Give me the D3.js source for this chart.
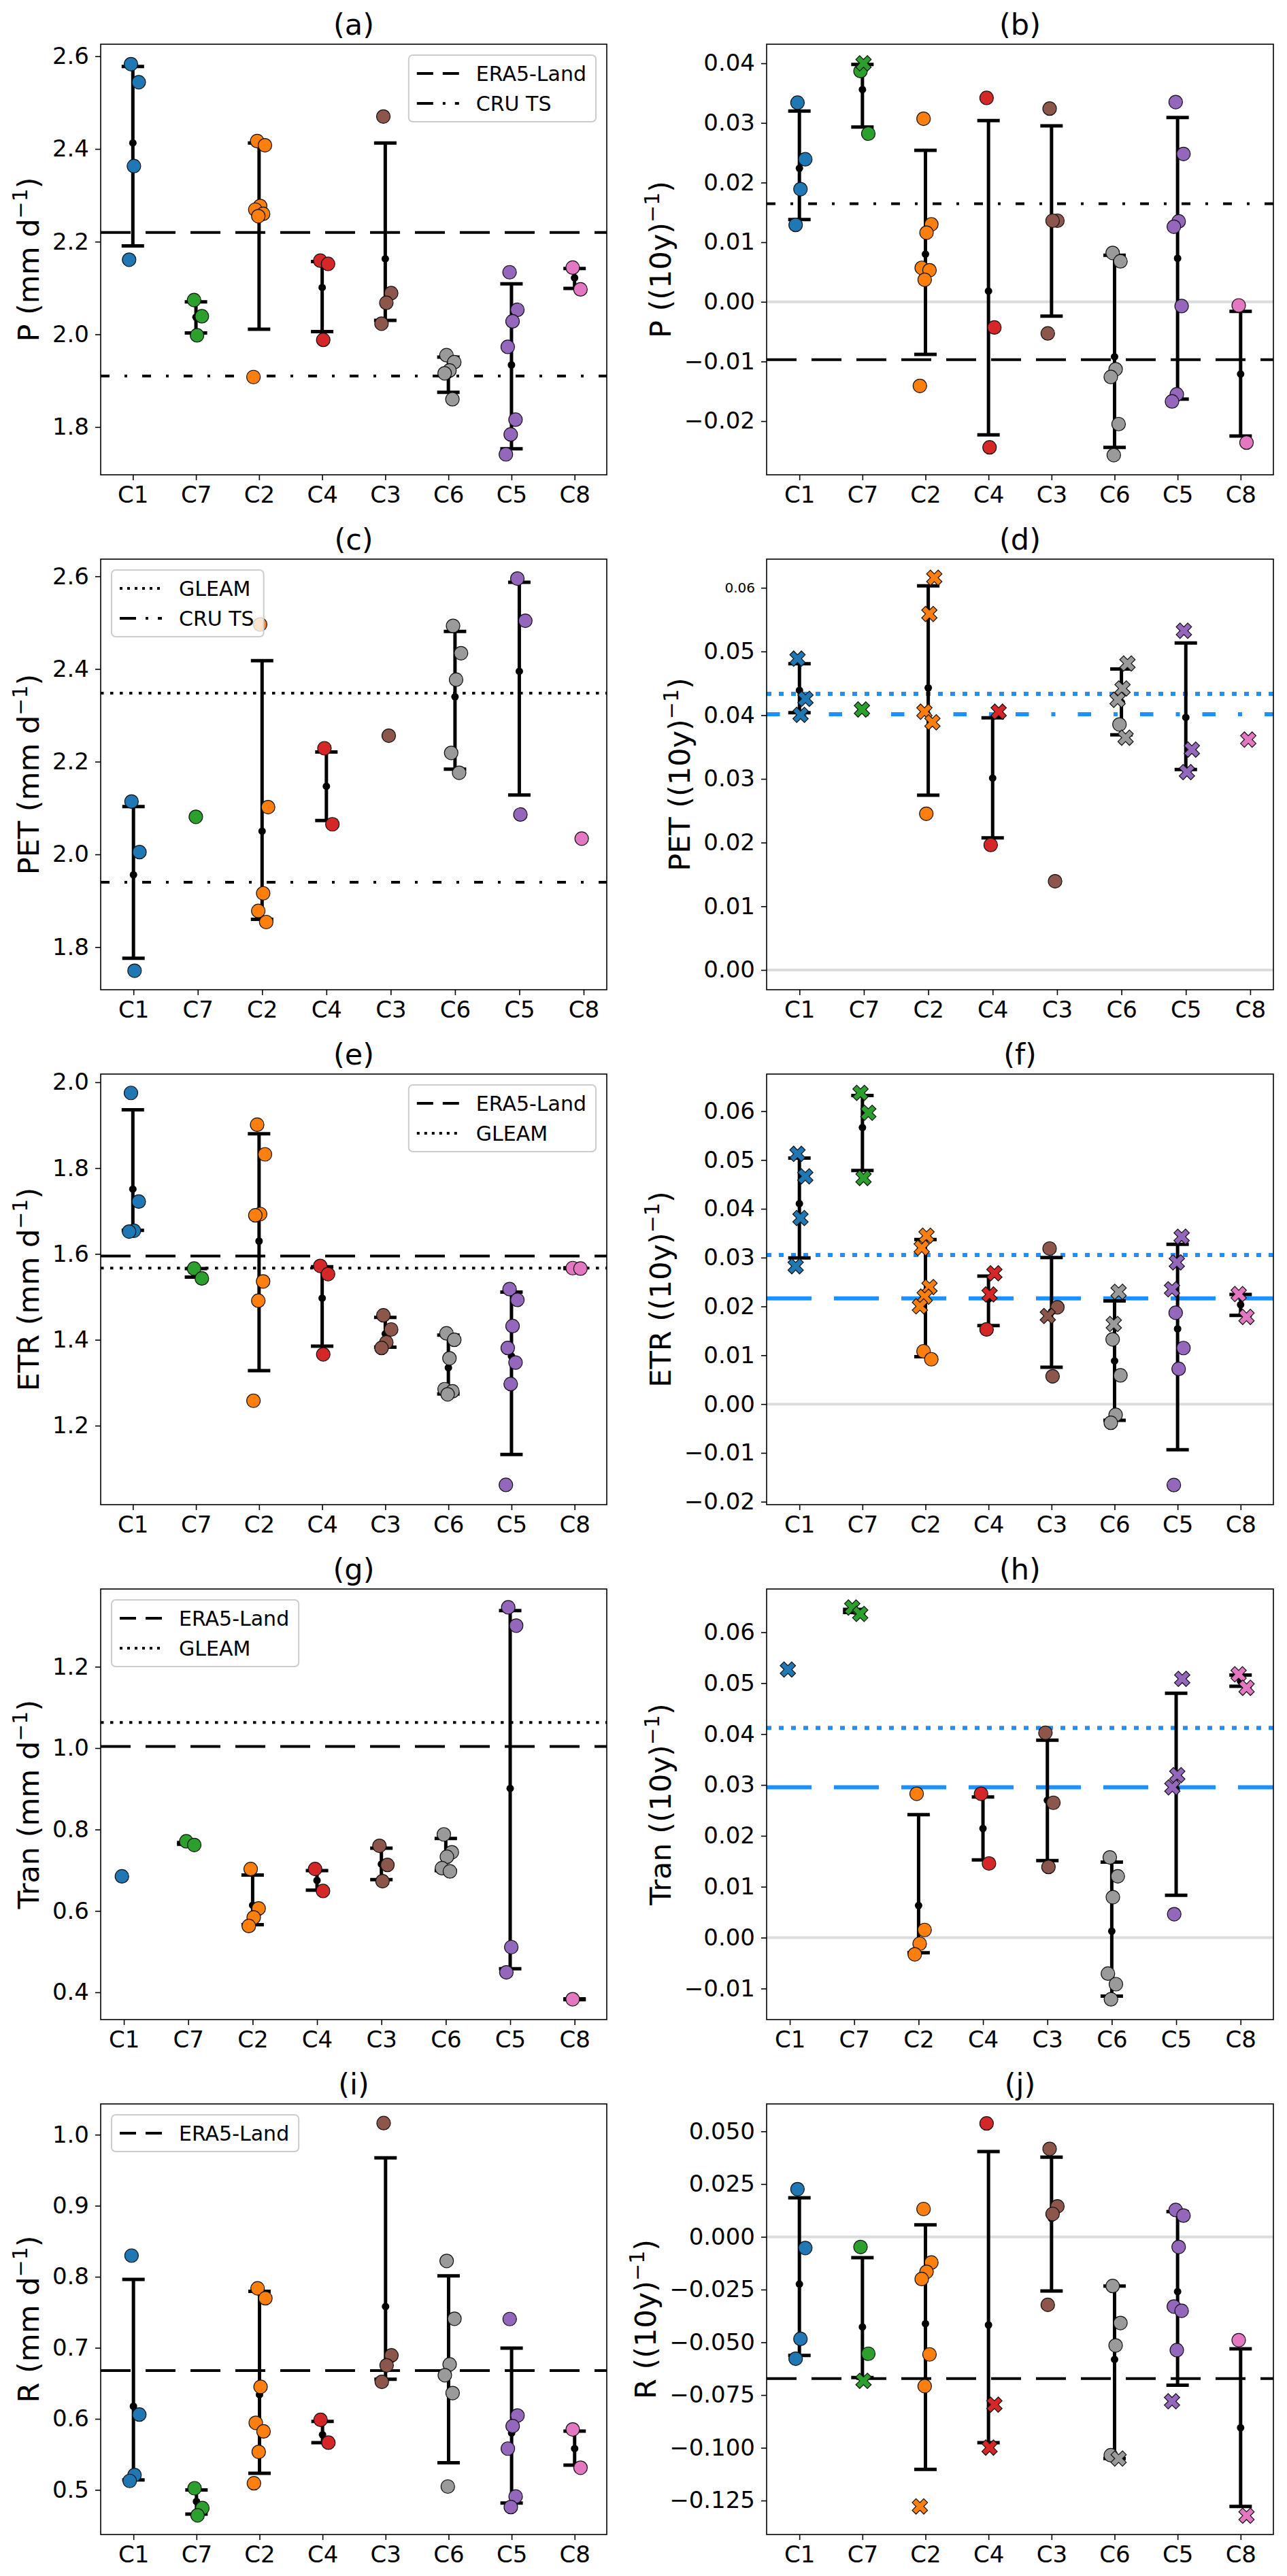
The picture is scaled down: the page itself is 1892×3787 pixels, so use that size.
<!DOCTYPE html>
<html>
<head>
<meta charset="utf-8">
<script src="https://cdn.jsdelivr.net/npm/d3@7"></script>
<style>
  body { margin: 0; background: #fff; }
  text { font-family: "DejaVu Sans", sans-serif; fill: #000; }
</style>
</head>
<body>
<svg id="fig"></svg>
<script>
// categories in plotting order and their colours
const categories = ["C1", "C7", "C2", "C4", "C3", "C6", "C5", "C8"];
const catColors = ["#1f77b4", "#2ca02c", "#ff7f0e", "#d62728", "#8c564b", "#9a9a9a", "#9467bd", "#e377c2"];

// (a) P (mm/d)
const circA = [[2.583, 2.544, 2.363, 2.161], [2.074, 2.039, 1.998], [2.417, 2.408, 2.277, 2.269, 2.260, 2.255, 1.908], [2.159, 2.152, 1.988],
  [2.470, 2.089, 2.068, 2.023], [1.955, 1.940, 1.922, 1.916, 1.860], [2.134, 2.053, 2.028, 1.973, 1.816, 1.784, 1.741], [2.144, 2.097]];
const crossA = [[], [], [], [], [], [], [], []];
const errA = [[2.191, 2.413, 2.578], [2.003, 2.037, 2.070], [2.011, 2.256, 2.413], [2.006, 2.101, 2.157],
  [2.030, 2.163, 2.413], [1.875, 1.912, 1.951], [1.753, 1.934, 2.109], [2.099, 2.122, 2.142]];
const refA = [["ERA5-Land", 2.220], ["CRU TS", 1.910]];
const ticksA = [1.8, 2.0, 2.2, 2.4, 2.6];

// (b) P trend
const circB = [[0.0334, 0.0239, 0.0189, 0.0129], [0.0387, 0.0282], [0.0307, 0.0130, 0.0116, 0.0057, 0.0053, 0.0037, -0.0141], [0.0342, -0.0043, -0.0244],
  [0.0324, 0.0136, 0.0136, -0.0053], [0.0082, 0.0068, -0.0113, -0.0126, -0.0205, -0.0257], [0.0335, 0.0248, 0.0135, 0.0126, -0.0007, -0.0155, -0.0167], [-0.0006, -0.0236]];
const crossB = [[], [0.0400], [], [], [], [], [], []];
const errB = [[0.0138, 0.0224, 0.0320], [0.0293, 0.0356, 0.0398], [-0.0088, 0.0080, 0.0254], [-0.0223, 0.0018, 0.0304],
  [-0.0024, 0.0136, 0.0295], [-0.0244, -0.0092, 0.0078], [-0.0163, 0.0073, 0.0309], [-0.0225, -0.0121, -0.0016]];
const refB = [["CRU TS", 0.01644], ["ERA5-Land", -0.00969]];
const ticksB = [-0.02, -0.01, 0.00, 0.01, 0.02, 0.03, 0.04];

// (c) PET (mm/d)
const circC = [[2.114, 2.005, 1.749], [2.081], [2.496, 2.102, 1.916, 1.878, 1.854], [2.229, 2.065],
  [2.256], [2.493, 2.434, 2.377, 2.219, 2.176], [2.595, 2.504, 2.086], [2.034]];
const crossC = [[], [], [], [], [], [], [], []];
const errC = [[1.776, 1.956, 2.103], null, [1.860, 2.050, 2.418], [2.073, 2.147, 2.221],
  null, [2.184, 2.340, 2.481], [2.128, 2.395, 2.587], null];
const refC = [["GLEAM", 2.348], ["CRU TS", 1.940]];
const ticksC = [1.8, 2.0, 2.2, 2.4, 2.6];

// (d) PET trend
const circD = [[], [], [0.02452], [0.01963], [0.01393], [0.03854], [], []];
const crossD = [[0.04888, 0.04257, 0.04005], [0.0409], [0.06158, 0.05589, 0.04055, 0.03889], [0.04055],
  [], [0.04812, 0.04419, 0.04242, 0.03647], [0.05326, 0.0346, 0.03107], [0.03617]];
const errD = [[0.0404, 0.0439, 0.04807], null, [0.02744, 0.04429, 0.06032], [0.02074, 0.03012, 0.0396],
  null, [0.03692, 0.0420, 0.04726], [0.03148, 0.03965, 0.05135], null];
const refD = [["GLEAM", 0.04336], ["CRU TS", 0.04015]];
const ticksD = [0.00, 0.01, 0.02, 0.03, 0.04, 0.05, 0.06];

// (e) ETR (mm/d)
const circE = [[1.975, 1.722, 1.654, 1.652], [1.566, 1.543], [1.901, 1.832, 1.693, 1.690, 1.536, 1.491, 1.258], [1.572, 1.553, 1.366],
  [1.457, 1.424, 1.394, 1.381], [1.415, 1.400, 1.357, 1.285, 1.280, 1.273], [1.518, 1.493, 1.432, 1.381, 1.347, 1.297, 1.062], [1.567, 1.566]];
const crossE = [[], [], [], [], [], [], [], []];
const errE = [[1.655, 1.751, 1.936], [1.546, 1.555, 1.566], [1.328, 1.630, 1.880], [1.385, 1.497, 1.570],
  [1.383, 1.414, 1.452], [1.274, 1.335, 1.411], [1.133, 1.362, 1.511], [1.566, 1.567, 1.568]];
const refE = [["ERA5-Land", 1.595], ["GLEAM", 1.567]];
const ticksE = [1.2, 1.4, 1.6, 1.8, 2.0];

// (f) ETR trend
const circF = [[], [], [0.01082, 0.00918], [0.01529], [0.03186, 0.01983, 0.00569], [0.01325, 0.00589, -0.0022, -0.00384],
  [0.01871, 0.01148, 0.00721, -0.01659], []];
const crossF = [[0.05126, 0.04665, 0.03811, 0.02824], [0.06375, 0.05967, 0.04632], [0.03449, 0.032, 0.02397, 0.022, 0.02003], [0.0268, 0.02246],
  [0.01805], [0.0230, 0.01641], [0.03429, 0.02903, 0.02351], [0.02253, 0.01786]];
const errF = [[0.02995, 0.04107, 0.0504], [0.04784, 0.05665, 0.06322], [0.0097, 0.02213, 0.0337], [0.01608, 0.0215, 0.0262],
  [0.00753, 0.0189, 0.03002], [-0.00331, 0.00885, 0.02114], [-0.00936, 0.01542, 0.03272], [0.01818, 0.02036, 0.02246]];
const refF = [["GLEAM", 0.03055], ["ERA5-Land", 0.02167]];
const ticksF = [-0.02, -0.01, 0.00, 0.01, 0.02, 0.03, 0.04, 0.05, 0.06];

// (g) Tran (mm/d)
const circG = [[0.685], [0.771, 0.762], [0.703, 0.606, 0.584, 0.563], [0.703, 0.649],
  [0.760, 0.713, 0.673], [0.788, 0.744, 0.733, 0.705, 0.697], [1.346, 1.301, 0.511, 0.449], [0.383]];
const crossG = [[], [], [], [], [], [], [], []];
const errG = [null, [0.764, 0.766, 0.768], [0.566, 0.614, 0.688], [0.651, 0.675, 0.699],
  [0.677, 0.715, 0.754], [0.699, 0.734, 0.778], [0.458, 0.901, 1.338], [0.382, 0.383, 0.384]];
const refG = [["ERA5-Land", 1.004], ["GLEAM", 1.063]];
const ticksG = [0.4, 0.6, 0.8, 1.0, 1.2];

// (h) Tran trend
const circH = [[], [], [0.02826, 0.00151, -0.0012, -0.00328], [0.02826, 0.01457], [0.04025, 0.0265, 0.01388],
  [0.01577, 0.01205, 0.00795, -0.00707, -0.00915, -0.01211], [0.00461], []];
const crossH = [[0.05268], [0.06486, 0.0636], [], [], [], [], [0.05085, 0.03192, 0.02953], [0.05174, 0.04909]];
const errH = [null, [0.0639, 0.0642, 0.0645], [-0.00297, 0.00631, 0.02416], [0.01527, 0.02145, 0.02763],
  [0.01514, 0.027, 0.0388], [-0.01148, 0.00126, 0.01483], [0.00833, 0.0292, 0.04801], [0.0494, 0.0504, 0.0516]];
const refH = [["GLEAM", 0.0412], ["ERA5-Land", 0.02953]];
const ticksH = [-0.01, 0.00, 0.01, 0.02, 0.03, 0.04, 0.05, 0.06];

// (i) R (mm/d)
const circI = [[0.8298, 0.6060, 0.5209, 0.5126], [0.5023, 0.4744, 0.4642], [0.7837, 0.7698, 0.6451, 0.5944, 0.5823, 0.5535, 0.5093], [0.5986, 0.5665],
  [1.0163, 0.6893, 0.6753, 0.6521], [0.8223, 0.7409, 0.6767, 0.6614, 0.6363, 0.5047], [0.7405, 0.6047, 0.5898, 0.5581, 0.4907, 0.4758], [0.5851, 0.5312]];
const crossI = [[], [], [], [], [], [], [], []];
const errI = [[0.514, 0.6177, 0.7963], [0.466, 0.4837, 0.500], [0.5233, 0.634, 0.7795], [0.5665, 0.5777, 0.5963],
  [0.6558, 0.7581, 0.9674], [0.5381, 0.670, 0.8014], [0.4814, 0.580, 0.6995], [0.5349, 0.5581, 0.5828]];
const refI = [["ERA5-Land", 0.6679]];
const ticksI = [0.5, 0.6, 0.7, 0.8, 0.9, 1.0];

// (j) R trend
const circJ = [[0.02259, -0.00529, -0.04837, -0.05777], [-0.00482, -0.05542], [0.01319, -0.01219, -0.01657, -0.02, -0.05573, -0.07077], [0.05376],
  [0.0417, 0.01444, 0.01084, -0.03224], [-0.02331, -0.04085, -0.0515, -0.1035], [0.01272, 0.01006, -0.00482, -0.03302, -0.03506, -0.0537], [-0.049]];
const crossJ = [[], [-0.06826], [-0.12779], [-0.07954, -0.0999], [], [-0.10508], [-0.07797], [-0.13217]];
const errJ = [[-0.0562, -0.02237, 0.01851], [-0.0667, -0.04273, -0.00984], [-0.11024, -0.04117, 0.00567], [-0.09756, -0.04179, 0.04045],
  [-0.02566, 0.0087, 0.03778], [-0.10508, -0.05808, -0.02331], [-0.0703, -0.02597, 0.01194], [-0.12779, -0.09051, -0.05307]];
const refJ = [["ERA5-Land", -0.06717]];
const ticksJ = [-0.125, -0.100, -0.075, -0.050, -0.025, 0.000, 0.025, 0.050];

// panel layout
const panels = [
  { tag: "(a)", row: 0, col: 0, v: "P", trend: false, circ: circA, cross: crossA, err: errA, ref: refA, ticks: ticksA, fmt: ".1f", yDom: [1.697, 2.626], xDom: [-0.51, 7.51], legend: "ur" },
  { tag: "(b)", row: 0, col: 1, v: "P", trend: true, circ: circB, cross: crossB, err: errB, ref: refB, ticks: ticksB, fmt: ".2f", yDom: [-0.0290, 0.0432], xDom: [-0.52, 7.52] },
  { tag: "(c)", row: 1, col: 0, v: "PET", trend: false, circ: circC, cross: crossC, err: errC, ref: refC, ticks: ticksC, fmt: ".1f", yDom: [1.708, 2.637], xDom: [-0.51, 7.36], legend: "ul" },
  { tag: "(d)", row: 1, col: 1, v: "PET", trend: true, circ: circD, cross: crossD, err: errD, ref: refD, ticks: ticksD, fmt: ".2f", yDom: [-0.0031, 0.0645], xDom: [-0.51, 7.36], blue: true, smallTop: 0.06 },
  { tag: "(e)", row: 2, col: 0, v: "ETR", trend: false, circ: circE, cross: crossE, err: errE, ref: refE, ticks: ticksE, fmt: ".1f", yDom: [1.016, 2.019], xDom: [-0.51, 7.51], legend: "ur" },
  { tag: "(f)", row: 2, col: 1, v: "ETR", trend: true, circ: circF, cross: crossF, err: errF, ref: refF, ticks: ticksF, fmt: ".2f", yDom: [-0.0206, 0.0676], xDom: [-0.52, 7.52], blue: true },
  { tag: "(g)", row: 3, col: 0, v: "Tran", trend: false, circ: circG, cross: crossG, err: errG, ref: refG, ticks: ticksG, fmt: ".1f", yDom: [0.333, 1.391], xDom: [-0.36, 7.5], legend: "ul" },
  { tag: "(h)", row: 3, col: 1, v: "Tran", trend: true, circ: circH, cross: crossH, err: errH, ref: refH, ticks: ticksH, fmt: ".2f", yDom: [-0.0161, 0.0685], xDom: [-0.36, 7.51], blue: true },
  { tag: "(i)", row: 4, col: 0, v: "R", trend: false, circ: circI, cross: crossI, err: errI, ref: refI, ticks: ticksI, fmt: ".1f", yDom: [0.4372, 1.0433], xDom: [-0.52, 7.51], legend: "ul" },
  { tag: "(j)", row: 4, col: 1, v: "R", trend: true, circ: circJ, cross: crossJ, err: errJ, ref: refJ, ticks: ticksJ, fmt: ".3f", yDom: [-0.1411, 0.0630], xDom: [-0.52, 7.52] }
];

const W = 1892, H = 3787;
const colX = [[148, 892], [1127, 1872]];
const rowTop = r => 65 + r * 757;
const axH = 633;

const lineStyle = { "ERA5-Land": "dashed", "GLEAM": "dotted", "CRU TS": "dashdot" };
const dashBlack = { dashed: "44,22", dotted: "4.5,9.5", dashdot: "13,22,4,22" };
const dashBlue = { dashed: "66,33", dotted: "7,11", dashdot: "19.5,33,6,33" };
const dashLegend = { dashed: "24,14", dotted: "4,7", dashdot: "24,14,4,14" };

// jitter inside a category (deterministic)
const jit = k => ((k * 0.618034 + 0.35) % 1 - 0.5) * 0.2;

function xMarker(L, a) {
  const pts = [[-a, -L], [a, -L], [a, -a], [L, -a], [L, a], [a, a], [a, L], [-a, L], [-a, a], [-L, a], [-L, -a], [-a, -a]];
  const c = Math.SQRT1_2;
  return "M" + pts.map(([x, y]) => [((x - y) * c).toFixed(2), ((x + y) * c).toFixed(2)].join(",")).join("L") + "Z";
}
const xPathStr = xMarker(12, 4);

const svg = d3.select("#fig").attr("width", W).attr("height", H);
svg.append("rect").attr("width", W).attr("height", H).attr("fill", "#fff");

panels.forEach(p => {
  const [left, right] = colX[p.col];
  const top = rowTop(p.row), bot = top + axH;
  const x = d3.scaleLinear().domain(p.xDom).range([left, right]);
  const y = d3.scaleLinear().domain(p.yDom).range([bot, top]);
  const g = svg.append("g");

  // zero line for trend panels
  if (p.trend) {
    g.append("line").attr("x1", left).attr("x2", right).attr("y1", y(0)).attr("y2", y(0))
      .attr("stroke", "#dcdcdc").attr("stroke-width", 4);
  }

  // reference products
  p.ref.forEach(([name, val]) => {
    const st = lineStyle[name];
    g.append("line").attr("x1", left).attr("x2", right).attr("y1", y(val)).attr("y2", y(val))
      .attr("stroke", p.blue ? "#1e90ff" : "#000")
      .attr("stroke-width", p.blue ? 6 : 4)
      .attr("stroke-dasharray", p.blue ? dashBlue[st] : dashBlack[st]);
  });

  // error bars
  const errData = p.err.map((e, i) => ({ e, i })).filter(d => d.e);
  const eb = g.selectAll(".eb").data(errData).join("g");
  eb.append("line").attr("x1", d => x(d.i)).attr("x2", d => x(d.i))
    .attr("y1", d => y(d.e[0])).attr("y2", d => y(d.e[2]))
    .attr("stroke", "#000").attr("stroke-width", 5);
  [0, 2].forEach(k => {
    eb.append("line").attr("x1", d => x(d.i) - 16.5).attr("x2", d => x(d.i) + 16.5)
      .attr("y1", d => y(d.e[k])).attr("y2", d => y(d.e[k]))
      .attr("stroke", "#000").attr("stroke-width", 5);
  });
  eb.append("circle").attr("cx", d => x(d.i)).attr("cy", d => y(d.e[1])).attr("r", 5.5).attr("fill", "#000");

  // members
  const pts = [];
  categories.forEach((c, i) => {
    let k = 0;
    p.circ[i].forEach(v => pts.push({ i, v, m: "o", k: k++ }));
    p.cross[i].forEach(v => pts.push({ i, v, m: "x", k: k++ }));
  });
  g.selectAll(".pc").data(pts.filter(d => d.m === "o")).join("circle")
    .attr("cx", d => x(d.i + jit(d.k))).attr("cy", d => y(d.v)).attr("r", 10)
    .attr("fill", d => catColors[d.i]).attr("stroke", "#111").attr("stroke-width", 1.2);
  g.selectAll(".px").data(pts.filter(d => d.m === "x")).join("path")
    .attr("d", xPathStr)
    .attr("transform", d => `translate(${x(d.i + jit(d.k))},${y(d.v)})`)
    .attr("fill", d => catColors[d.i]).attr("stroke", "#111").attr("stroke-width", 1.2);

  // legend
  if (p.legend) {
    const lg = g.append("g");
    const box = lg.append("rect").attr("rx", 6).attr("fill", "#fff").attr("fill-opacity", 0.8)
      .attr("stroke", "#cccccc").attr("stroke-width", 2);
    const texts = [];
    p.ref.forEach(([name], r) => {
      const cy = 27 + 44 * r;
      lg.append("line").attr("x1", 12).attr("x2", 74).attr("y1", cy).attr("y2", cy)
        .attr("stroke", "#000").attr("stroke-width", 4).attr("stroke-dasharray", dashLegend[lineStyle[name]]);
      texts.push(lg.append("text").attr("x", 99).attr("y", cy + 11).style("font-size", "30px").text(name));
    });
    const tw = d3.max(texts, t => t.node().getComputedTextLength());
    const bw = 99 + tw + 14, bh = 10 + 44 * p.ref.length;
    box.attr("width", bw).attr("height", bh);
    const bx = p.legend === "ur" ? right - 16 - bw : left + 16;
    lg.attr("transform", `translate(${bx},${top + 16})`);
  }

  // frame
  g.append("rect").attr("x", left).attr("y", top).attr("width", right - left).attr("height", axH)
    .attr("fill", "none").attr("stroke", "#000").attr("stroke-width", 1.6);

  // axes
  const ya = g.append("g").attr("transform", `translate(${left},0)`)
    .call(d3.axisLeft(y).tickValues(p.ticks).tickFormat(d3.format(p.fmt)).tickSize(8).tickPadding(9));
  const xa = g.append("g").attr("transform", `translate(0,${bot})`)
    .call(d3.axisBottom(x).tickValues(d3.range(categories.length)).tickFormat(i => categories[i]).tickSize(8).tickPadding(9));
  [ya, xa].forEach(a => {
    a.select(".domain").remove();
    a.selectAll(".tick line").attr("stroke", "#000").attr("stroke-width", 1.6);
    a.selectAll(".tick text").attr("fill", "#000").style("font-size", "34px").style("font-family", '"DejaVu Sans", sans-serif');
  });
  if (p.smallTop !== undefined) {
    ya.selectAll(".tick").filter(d => d === p.smallTop).select("text").style("font-size", "20px");
  }

  // y label placed left of the tick labels
  let minX = Infinity;
  ya.selectAll(".tick text").each(function () { minX = Math.min(minX, left + this.getBBox().x); });
  const bx = minX - 20;
  const yl = g.append("text").attr("transform", `translate(${bx},${(top + bot) / 2}) rotate(-90)`)
    .attr("text-anchor", "middle").style("font-size", "43px");
  yl.append("tspan").text(p.v + (p.trend ? " ((10y)" : " (mm d"));
  yl.append("tspan").attr("dy", -17).style("font-size", "30px").text("−1");
  yl.append("tspan").attr("dy", 17).text(")");

  // panel title
  g.append("text").attr("x", (left + right) / 2).attr("y", top - 14)
    .attr("text-anchor", "middle").style("font-size", "43px").text(p.tag);
});
</script>
</body>
</html>
